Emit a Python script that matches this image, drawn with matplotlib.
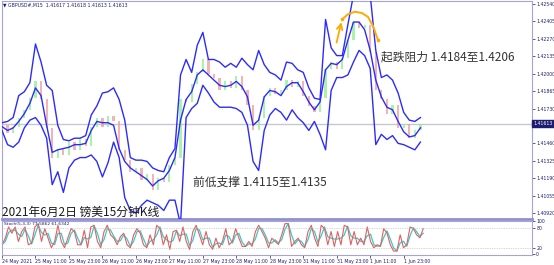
import numpy as np
import pandas as pd
import matplotlib
matplotlib.use("Agg")
import matplotlib.pyplot as plt

# GBPUSD M15, sampled every 2 hours, hours counted from the first bar (24 May 23:00)
hours = np.arange(0, 152, 2)

upper = [1.4162, 1.4163, 1.4166, 1.4183, 1.4186, 1.4193, 1.4223, 1.4209, 1.4191, 1.4187,
         1.4160, 1.4149, 1.4148, 1.4150, 1.4150, 1.4152, 1.4168, 1.4175, 1.4185, 1.4186,
         1.4189, 1.4180, 1.4164, 1.4135, 1.4133, 1.4133, 1.4132, 1.4127, 1.4125, 1.4124,
         1.4135, 1.4142, 1.4199, 1.4211, 1.4201, 1.4222, 1.4232, 1.4211, 1.4211, 1.4209,
         1.4205, 1.4208, 1.4205, 1.4212, 1.4207, 1.4203, 1.4218, 1.4207, 1.4201, 1.4199,
         1.4195, 1.4209, 1.4208, 1.4203, 1.4201, 1.4189, 1.4181, 1.4180, 1.4242, 1.4220,
         1.4214, 1.4214, 1.4238, 1.4261, 1.4265, 1.4261, 1.4261, 1.4218, 1.4197, 1.4199,
         1.4195, 1.4185, 1.4170, 1.4164, 1.4163, 1.4166]
middle = [1.4159, 1.4156, 1.4158, 1.4163, 1.4169, 1.4177, 1.4189, 1.4183, 1.4160, 1.4139,
          1.4141, 1.4142, 1.4143, 1.4145, 1.4145, 1.4146, 1.4156, 1.4163, 1.4162, 1.4162,
          1.4160, 1.4142, 1.4132, 1.4127, 1.4124, 1.4121, 1.4118, 1.4113, 1.4117, 1.4119,
          1.4125, 1.4135, 1.4164, 1.4180, 1.4186, 1.4199, 1.4203, 1.4199, 1.4195, 1.4191,
          1.4190, 1.4191, 1.4194, 1.4190, 1.4182, 1.4160, 1.4164, 1.4182, 1.4187, 1.4186,
          1.4183, 1.4190, 1.4193, 1.4193, 1.4186, 1.4178, 1.4172, 1.4178, 1.4203, 1.4208,
          1.4207, 1.4211, 1.4226, 1.4240, 1.4240, 1.4234, 1.4218, 1.4195, 1.4182, 1.4174,
          1.4172, 1.4163, 1.4155, 1.4151, 1.4152, 1.4158]
lower = [1.4156, 1.4145, 1.4143, 1.4147, 1.4158, 1.4164, 1.4166, 1.4160, 1.4150, 1.4114,
         1.4124, 1.4108, 1.4127, 1.4133, 1.4135, 1.4135, 1.4137, 1.4132, 1.4120, 1.4131,
         1.4147, 1.4135, 1.4104, 1.4094, 1.4092, 1.4098, 1.4102, 1.4100, 1.4098, 1.4094,
         1.4102, 1.4102, 1.4083, 1.4166, 1.4173, 1.4177, 1.4191, 1.4185, 1.4178, 1.4174,
         1.4174, 1.4174, 1.4173, 1.4170, 1.4160, 1.4132, 1.4125, 1.4156, 1.4168, 1.4173,
         1.4170, 1.4164, 1.4172, 1.4166, 1.4162, 1.4156, 1.4163, 1.4153, 1.4141, 1.4187,
         1.4197, 1.4197, 1.4199, 1.4209, 1.4218, 1.4214, 1.4204, 1.4145, 1.4153, 1.4149,
         1.4152, 1.4146, 1.4145, 1.4143, 1.4141, 1.4147]
close = [1.4160, 1.4154, 1.4159, 1.4166, 1.4172, 1.4181, 1.4194, 1.4180, 1.4158, 1.4135,
         1.4142, 1.4137, 1.4147, 1.4141, 1.4149, 1.4144, 1.4159, 1.4166, 1.4159, 1.4167,
         1.4163, 1.4141, 1.4133, 1.4124, 1.4127, 1.4118, 1.4122, 1.4110, 1.4119, 1.4116,
         1.4129, 1.4135, 1.4180, 1.4178, 1.4192, 1.4201, 1.4211, 1.4200, 1.4197, 1.4187,
         1.4194, 1.4189, 1.4198, 1.4187, 1.4176, 1.4156, 1.4166, 1.4183, 1.4189, 1.4184,
         1.4187, 1.4195, 1.4190, 1.4194, 1.4183, 1.4175, 1.4170, 1.4181, 1.4204, 1.4209,
         1.4204, 1.4212, 1.4226, 1.4240, 1.4235, 1.4238, 1.4217, 1.4187, 1.4180, 1.4169,
         1.4176, 1.4158, 1.4161, 1.4150, 1.4156, 1.4161]

stoch_main = [29, 49, 83, 64, 83, 39, 69, 83, 29, 34, 83, 93, 39, 78, 49, 20, 39, 88, 39, 20,
              49, 78, 69, 29, 29, 73, 20, 83, 88, 39, 20, 69, 88, 59, 49, 29, 54, 64, 29, 20,
              59, 78, 64, 29, 20, 59, 29, 88, 78, 29, 59, 15, 69, 73, 39, 83, 39, 15, 69, 88,
              59, 29, 69, 29, 15, 49, 20, 39, 78, 29, 39, 78, 49, 24, 24, 39, 24, 69, 88, 69,
              49, 20, 49, 39, 30, 59, 93, 93, 24, 39, 49, 29, 20, 69, 88, 49, 24, 88, 78, 29,
              69, 24, 69, 29, 88, 83, 29, 69, 29, 49, 29, 83, 39, 20, 29, 24, 78, 64, 29, 10,
              10, 59, 20, 29, 83, 78, 59, 50, 78]

time_ticks = [0, 12, 24, 36, 48, 60, 72, 84, 96, 108, 120, 132, 144]
time_labels = ["24 May 2021", "25 May 11:00", "25 May 23:00", "26 May 11:00", "26 May 23:00",
               "27 May 11:00", "27 May 23:00", "28 May 11:00", "28 May 23:00", "31 May 11:00",
               "31 May 23:00", "1 Jun 11:00", "1 Jun 23:00"]
price_ticks = [1.42540, 1.42405, 1.42270, 1.42135, 1.42000, 1.41865, 1.41730,
               1.41460, 1.41325, 1.41190, 1.41055, 1.40920]
stoch_ticks = [0, 20, 80, 100]
last_price = 1.41613

# hand drawn orange arc over the top
arc_hours = [119.7, 121.9, 124.0, 126.5, 129.0, 131.2, 133.0, 134.8]
arc_prices = [1.4222, 1.4242, 1.4246, 1.4248, 1.4247, 1.4244, 1.4237, 1.4226]

W, H = 554, 265
frame = "#a4a4d8"
navy = "#1c1c70"
cjk = ["Noto Sans CJK SC", "DejaVu Sans"]

fig = plt.figure(figsize=(W / 100, H / 100), dpi=100)
ax = fig.add_axes([2 / W, 1 - 219 / H, 530 / W, 218 / H])
ax2 = fig.add_axes([2 / W, 1 - 255 / H, 530 / W, 34 / H])

# candles, open = previous close
opens = np.r_[close[0], close[:-1]]
cl = np.array(close)
up = cl >= opens
ax.bar(hours[up], cl[up] - opens[up], bottom=opens[up], width=0.8,
       color="#8ef08e", alpha=0.75, zorder=2)
ax.bar(hours[~up], cl[~up] - opens[~up], bottom=opens[~up], width=0.8,
       color="#f49a9a", alpha=0.75, zorder=2)

ax.plot(hours, upper, color="#2b2bff", lw=1.0, zorder=3)
ax.plot(hours, middle, color="#2b2bff", lw=1.0, zorder=3)
ax.plot(hours, lower, color="#2b2bff", lw=1.0, zorder=3)

ax.axhline(last_price, color="#c4c8d2", lw=1.0, zorder=1)

ax.annotate("", xy=(arc_hours[1], arc_prices[1]), xytext=(arc_hours[0], arc_prices[0]),
            arrowprops=dict(arrowstyle="->", color="#ffaa00", lw=1.3), zorder=4)
ax.plot(arc_hours[1:], arc_prices[1:], color="#ffaa00", lw=1.4, zorder=4)
ax.plot([arc_hours[1], arc_hours[-1]], [arc_prices[1], arc_prices[-1]], ls="none",
        marker="o", ms=1.6, color="#ffaa00", zorder=4)

ax.set_xlim(0, 190)
ax.set_ylim(1.40874, 1.42563)
ax.set_xticks([])
ax.yaxis.tick_right()
ax.set_yticks(price_ticks)
ax.set_yticklabels([f"{p:.5f}" for p in price_ticks])
ax.tick_params(axis="y", labelsize=3.3, colors=navy, length=2, pad=1, width=0.5)
for s in ax.spines.values():
    s.set_color(frame)
    s.set_linewidth(0.8)
ax.spines["bottom"].set_linewidth(2.0)
ax.spines["bottom"].set_color("#9090d0")

ax.text(1.003, (last_price - 1.40874) / (1.42563 - 1.40874), "1.41613",
        transform=ax.transAxes, fontsize=3.3, color="white", va="center", ha="left",
        bbox=dict(boxstyle="square,pad=0.25", fc=navy, ec=navy))

# stochastic
k = pd.Series(stoch_main, dtype=float)
d = k.rolling(2, min_periods=1).mean()
sx = np.linspace(0, 151, len(stoch_main))
ax2.plot(sx, d, color="#3cc8c8", lw=0.9)
ax2.plot(sx, k, color="#e06060", lw=0.8)
for lvl in (20, 80):
    ax2.axhline(lvl, color="#b0b0b0", lw=0.5, ls=(0, (1, 1.5)))
ax2.set_xlim(0, 190)
ax2.set_ylim(-2, 101)
ax2.yaxis.tick_right()
ax2.set_yticks(stoch_ticks)
ax2.set_yticklabels([str(t) for t in stoch_ticks])
ax2.tick_params(axis="y", labelsize=3.3, colors=navy, length=2, pad=1, width=0.5)
ax2.set_xticks(time_ticks)
ax2.set_xticklabels(time_labels, ha="left")
ax2.tick_params(axis="x", labelsize=3.3, colors=navy, length=2, pad=1.2, width=0.5)
for s in ax2.spines.values():
    s.set_color(frame)
    s.set_linewidth(0.8)

fig.text(3 / W, 1 - 5 / H, "\u25bc GBPUSD#,M15  1.41617 1.41618 1.41613 1.41613",
         fontsize=3.3, color=navy, va="center")
fig.text(4 / W, 1 - 224 / H, "Stoch(5,3,3) 77.5862 61.6342",
         fontsize=3.2, color=navy, va="center")

fig.text(381 / W, 1 - 57 / H, "起跌阻力 1.4184至1.4206", family=cjk,
         fontsize=8.5, color="#333333", va="center")
fig.text(193 / W, 1 - 182 / H, "前低支撑 1.4115至1.4135", family=cjk,
         fontsize=8.5, color="#333333", va="center")
fig.text(2 / W, 1 - 212 / H, "2021年6月2日 镑美15分钟K线", family=cjk,
         fontsize=8.5, color="#1a1a1a", va="center")

fig.savefig("out.png", dpi=100, facecolor="white")
